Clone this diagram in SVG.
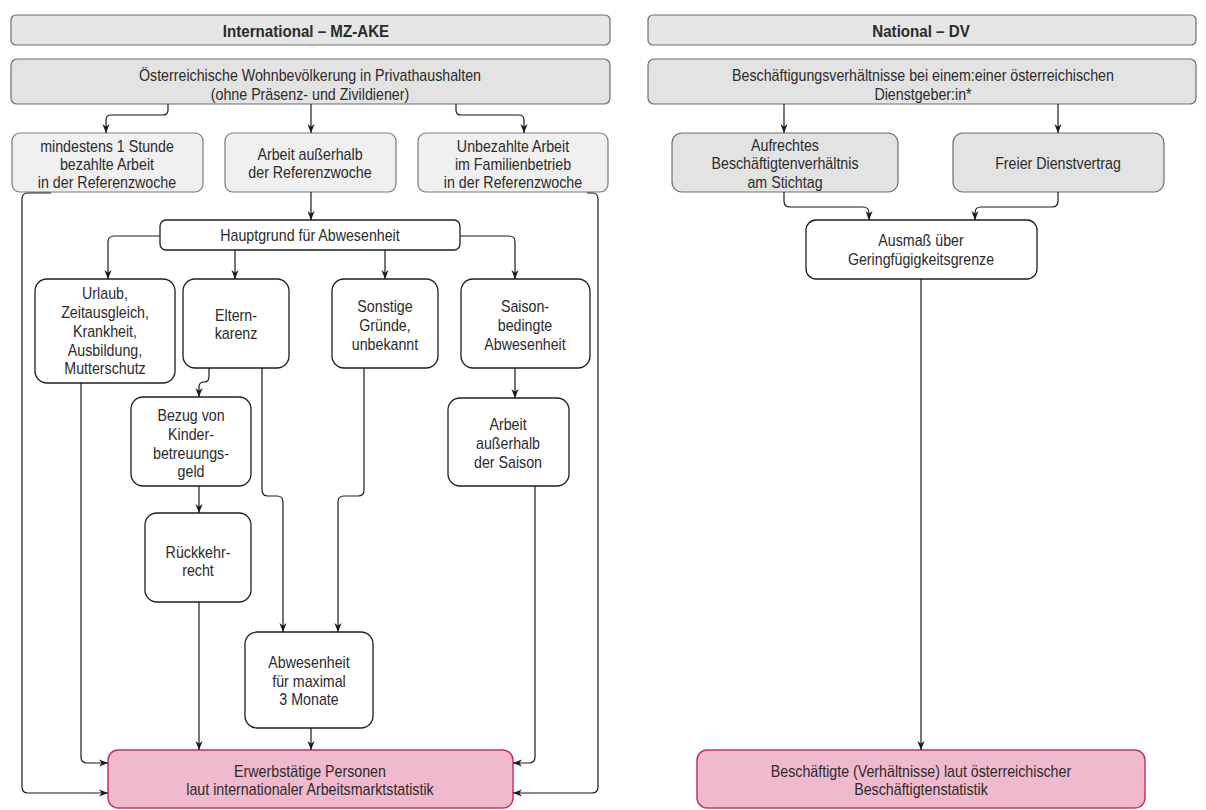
<svg xmlns="http://www.w3.org/2000/svg" width="1206" height="810" viewBox="0 0 1206 810">
<style>
text{font-family:"Liberation Sans",Arial,sans-serif;font-size:16px;fill:#2b2b2b;text-anchor:middle}
.b{font-weight:bold;font-size:17px}
.hdr{fill:#e6e6e6;stroke:#6e6e6e;stroke-width:1.2}
.g{fill:#e3e3e3;stroke:#6e6e6e;stroke-width:1.2}
.lg{fill:#f0f0f0;stroke:#7a7a7a;stroke-width:1.2}
.w{fill:#ffffff;stroke:#1e1e1e;stroke-width:1.3}
.pk{fill:#f0b9cd;stroke:#c33466;stroke-width:1.5}
.c path{fill:none;stroke:#1a1a1a;stroke-width:1.2;marker-end:url(#a)}
</style>
<defs>
<marker id="a" viewBox="0 0 10 10" refX="10" refY="5" markerWidth="9" markerHeight="9" markerUnits="userSpaceOnUse" orient="auto">
<path d="M0,1 L10,5 L0,9 L3,5 z" fill="#1a1a1a"/>
</marker>
</defs>

<g id="hdr-int"><rect class="hdr" x="11" y="15" width="599" height="30" rx="5"/><g transform="matrix(.89 0 0 1 306 0)"><text class="b" y="37">International – MZ-AKE</text></g></g>
<g id="hdr-nat"><rect class="hdr" x="648" y="15" width="548" height="30" rx="5"/><g transform="matrix(.89 0 0 1 921 0)"><text class="b" y="37">National – DV</text></g></g>

<g id="pop"><rect class="g" x="11" y="59" width="599" height="45" rx="6"/><g transform="matrix(.89 0 0 1 310 0)"><text y="81">Österreichische Wohnbevölkerung in Privathaushalten</text><text y="100">(ohne Präsenz- und Zivildiener)</text></g></g>
<g id="dv"><rect class="g" x="648" y="59" width="548" height="45" rx="6"/><g transform="matrix(.89 0 0 1 923 0)"><text y="81">Beschäftigungsverhältnisse bei einem:einer österreichischen</text><text y="100">Dienstgeber:in*</text></g></g>

<g id="b1"><rect class="lg" x="12" y="133" width="191" height="59" rx="8"/><g transform="matrix(.89 0 0 1 107 0)"><text y="152">mindestens 1 Stunde</text><text y="170">bezahlte Arbeit</text><text y="188">in der Referenzwoche</text></g></g>
<g id="b2"><rect class="lg" x="225" y="133" width="171" height="59" rx="8"/><g transform="matrix(.89 0 0 1 310 0)"><text y="160">Arbeit außerhalb</text><text y="178">der Referenzwoche</text></g></g>
<g id="b3"><rect class="lg" x="418" y="133" width="190" height="59" rx="8"/><g transform="matrix(.89 0 0 1 513 0)"><text y="152">Unbezahlte Arbeit</text><text y="170">im Familienbetrieb</text><text y="188">in der Referenzwoche</text></g></g>

<g id="haupt"><rect class="w" x="160" y="220" width="300" height="30" rx="6"/><g transform="matrix(.89 0 0 1 310 0)"><text y="241">Hauptgrund für Abwesenheit</text></g></g>

<g id="urlaub"><rect class="w" x="35" y="279" width="140" height="104" rx="12"/><g transform="matrix(.89 0 0 1 105 0)"><text y="299">Urlaub,</text><text y="318">Zeitausgleich,</text><text y="337">Krankheit,</text><text y="356">Ausbildung,</text><text y="374">Mutterschutz</text></g></g>
<g id="eltern"><rect class="w" x="183" y="279" width="106" height="89" rx="12"/><g transform="matrix(.89 0 0 1 236 0)"><text y="321">Eltern-</text><text y="339">karenz</text></g></g>
<g id="sonst"><rect class="w" x="332" y="279" width="106" height="89" rx="12"/><g transform="matrix(.89 0 0 1 385 0)"><text y="312">Sonstige</text><text y="331">Gründe,</text><text y="350">unbekannt</text></g></g>
<g id="saison"><rect class="w" x="461" y="279" width="129" height="89" rx="12"/><g transform="matrix(.89 0 0 1 525 0)"><text y="312">Saison-</text><text y="331">bedingte</text><text y="350">Abwesenheit</text></g></g>

<g id="bezug"><rect class="w" x="131" y="397" width="120" height="89" rx="12"/><g transform="matrix(.89 0 0 1 191 0)"><text y="421">Bezug von</text><text y="440">Kinder-</text><text y="459">betreuungs-</text><text y="477">geld</text></g></g>
<g id="rueck"><rect class="w" x="145" y="513" width="106" height="89" rx="12"/><g transform="matrix(.89 0 0 1 198 0)"><text y="558">Rückkehr-</text><text y="576">recht</text></g></g>
<g id="saisarb"><rect class="w" x="448" y="398" width="121" height="88" rx="12"/><g transform="matrix(.89 0 0 1 508 0)"><text y="430">Arbeit</text><text y="449">außerhalb</text><text y="468">der Saison</text></g></g>
<g id="abw"><rect class="w" x="245" y="632" width="128" height="96" rx="12"/><g transform="matrix(.89 0 0 1 309 0)"><text y="668">Abwesenheit</text><text y="687">für maximal</text><text y="705">3 Monate</text></g></g>

<g id="erw"><rect class="pk" x="108" y="750" width="405" height="58" rx="10"/><g transform="matrix(.89 0 0 1 310 0)"><text y="777">Erwerbstätige Personen</text><text y="795">laut internationaler Arbeitsmarktstatistik</text></g></g>

<g id="aufr"><rect class="g" x="672" y="133" width="226" height="59" rx="10"/><g transform="matrix(.89 0 0 1 785 0)"><text y="151">Aufrechtes</text><text y="169">Beschäftigtenverhältnis</text><text y="188">am Stichtag</text></g></g>
<g id="frei"><rect class="g" x="953" y="133" width="211" height="59" rx="10"/><g transform="matrix(.89 0 0 1 1058 0)"><text y="169">Freier Dienstvertrag</text></g></g>
<g id="ausm"><rect class="w" x="806" y="220" width="231" height="59" rx="10"/><g transform="matrix(.89 0 0 1 921 0)"><text y="246">Ausmaß über</text><text y="265">Geringfügigkeitsgrenze</text></g></g>
<g id="besch"><rect class="pk" x="697" y="750" width="448" height="58" rx="10"/><g transform="matrix(.89 0 0 1 921 0)"><text y="777">Beschäftigte (Verhältnisse) laut österreichischer</text><text y="795">Beschäftigtenstatistik</text></g></g>

<g class="c" id="connectors">
<path d="M168,104 V110 Q168,115 163,115 H111 Q106,115 106,120 V133"/>
<path d="M311,104 V133"/>
<path d="M456,104 V110 Q456,115 461,115 H519 Q524,115 524,120 V133"/>
<path d="M311,192 V220"/>
<path d="M160,236 H114 Q108,236 108,242 V279"/>
<path d="M235,250 V279"/>
<path d="M385,250 V279"/>
<path d="M460,236 H509 Q515,236 515,242 V279"/>
<path d="M209,368 V377 Q209,382 204,382 Q199,382 199,387 V397"/>
<path d="M199,486 V513"/>
<path d="M199,602 V750"/>
<path d="M262,368 V490 Q262,496 268,496 H277 Q283,496 283,502 V632"/>
<path d="M364,368 V490 Q364,496 358,496 H344 Q338,496 338,502 V632"/>
<path d="M311,728 V750"/>
<path d="M515,368 V398"/>
<path d="M535,486 V757 Q535,763 529,763 H513"/>
<path d="M81,383 V757 Q81,763 87,763 H108"/>
<path d="M51,193 H28 Q22,193 22,199 V787 Q22,793 28,793 H108"/>
<path d="M587,193 H592 Q598,193 598,199 V787 Q598,793 592,793 H513"/>
<path d="M784,104 V133"/>
<path d="M1058,104 V133"/>
<path d="M784,192 V201 Q784,207 790,207 H863 Q869,207 869,213 V220"/>
<path d="M1058,192 V201 Q1058,207 1052,207 H981 Q975,207 975,213 V220"/>
<path d="M921,279 V750"/>
</g>
</svg>
